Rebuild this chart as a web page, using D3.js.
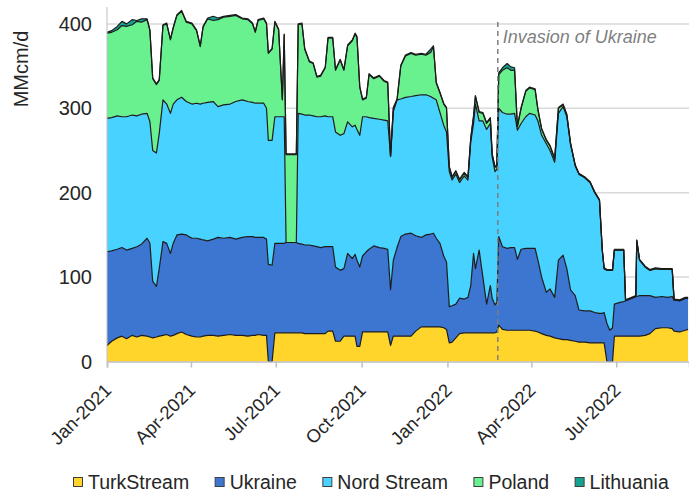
<!DOCTYPE html>
<html>
<head>
<meta charset="utf-8">
<script src="https://cdn.jsdelivr.net/npm/d3@7"></script>
<style>
  html, body { margin: 0; padding: 0; background: #fff; }
  svg { display: block; font-family: "Liberation Sans", Arial, sans-serif; }
</style>
</head>
<body>
<svg id="chart" width="689" height="493"></svg>
<script>
// ---- DATA ----
const dates = [
 "2021-01-01","2021-01-06","2021-01-12","2021-01-17","2021-01-22","2021-01-28","2021-02-02","2021-02-07","2021-02-13","2021-02-16",
 "2021-02-19","2021-02-23","2021-02-26","2021-03-02","2021-03-06","2021-03-10","2021-03-13","2021-03-17","2021-03-22","2021-03-27",
 "2021-04-02","2021-04-07","2021-04-11","2021-04-14","2021-04-19","2021-04-25","2021-04-30","2021-05-06","2021-05-13","2021-05-19",
 "2021-05-26","2021-06-01","2021-06-06","2021-06-09","2021-06-12","2021-06-18","2021-06-21","2021-06-23","2021-06-27","2021-06-30",
 "2021-07-04","2021-07-08","2021-07-10","2021-07-12","2021-07-23","2021-07-25","2021-07-29","2021-08-01","2021-08-06","2021-08-10",
 "2021-08-14","2021-08-18","2021-08-23","2021-08-26","2021-08-31","2021-09-03","2021-09-08","2021-09-12","2021-09-16","2021-09-21",
 "2021-09-24","2021-09-26","2021-09-29","2021-10-02","2021-10-06","2021-10-09","2021-10-14","2021-10-20","2021-10-25","2021-10-29",
 "2021-11-01","2021-11-04","2021-11-08","2021-11-12","2021-11-17","2021-11-23","2021-11-28","2021-12-04","2021-12-09","2021-12-14",
 "2021-12-17","2021-12-20","2021-12-24","2021-12-28","2021-12-31","2022-01-03","2022-01-06","2022-01-10","2022-01-14","2022-01-19",
 "2022-01-23","2022-01-26","2022-01-29","2022-01-31","2022-02-04","2022-02-08","2022-02-12","2022-02-16","2022-02-18","2022-02-21",
 "2022-02-23","2022-02-25","2022-03-01","2022-03-06","2022-03-10","2022-03-14","2022-03-17","2022-03-21","2022-03-26","2022-03-30",
 "2022-04-05","2022-04-08","2022-04-12","2022-04-17","2022-04-21","2022-04-26","2022-04-30","2022-05-05","2022-05-09","2022-05-13",
 "2022-05-18","2022-05-22","2022-05-28","2022-06-03","2022-06-08","2022-06-13","2022-06-16","2022-06-18","2022-06-21","2022-06-24",
 "2022-06-27","2022-06-29","2022-07-05","2022-07-09","2022-07-11","2022-07-22","2022-07-23","2022-07-26","2022-08-01","2022-08-06",
 "2022-08-12","2022-08-19","2022-08-25","2022-08-30","2022-09-01","2022-09-07","2022-09-13","2022-09-16"
];
const turkStream = [
 19,24,28,30,27,31,29,31,30,29, 28,29,30,31,32,30,31,33,35,32,
 30,29,29,30,31,31,30,31,32,31, 31,30,31,31,32,31,31,0,0,34,
 34,34,34,34,34,34,34,33,33,33, 33,33,33,36,36,24,24,30,30,30,
 30,18,18,35,35,35,35,35,35,35, 19,30,30,30,30,30,36,41,41,41,
 41,41,41,40,38,22,23,28,33,34, 34,34,34,34,34,34,34,34,34,34,
 35,43,38,37,37,37,37,37,37,37, 36,35,33,31,30,28,27,26,26,25,
 24,23,23,22,22,22,22,22,0,0, 0,30,30,30,30,30,30,30,31,33,
 39,40,40,39,36,35,37,38
];
const ukraine = [
 111,107,105,105,105,103,107,108,116,111, 67,60,80,111,108,98,109,117,116,118,
 116,117,116,114,112,114,117,115,115,114, 116,118,117,116,115,116,114,115,114,106,
 106,106,106,107,107,106,105,105,105,104, 103,102,103,100,100,88,84,80,98,92,
 97,102,94,90,95,98,102,100,99,98, 66,90,105,118,121,122,113,106,109,110,
 111,105,99,85,80,43,43,40,42,40, 42,56,94,76,98,66,34,56,41,33,
 35,105,98,97,98,98,84,96,97,97, 98,85,67,51,56,48,93,100,84,60,
 54,38,37,38,36,35,35,36,45,37, 40,38,40,41,42,47,47,48,47,45,
 37,37,36,38,37,37,38,37
];
const nordStream = [
 158,158,158,155,158,158,155,154,148,144, 155,158,160,168,165,166,165,160,162,158,
 159,160,160,162,164,163,155,158,158,163, 163,160,159,159,159,159,155,147,148,150,
 150,150,150,0,0,154,154,154,154,154, 154,155,155,154,154,160,160,160,156,156,
 153,155,156,165,160,156,151,152,152,152, 158,176,175,163,162,162,166,169,166,163,
 160,164,155,155,154,160,149,154,137,146, 139,170,154,195,153,185,207,192,167,158,
 158,152,159,159,158,159,153,149,156,160, 158,165,168,176,164,160,174,176,180,172,
 154,161,158,152,142,134,75,52,63,71, 68,64,62,61,0,0,66,42,34,30,
 34,32,33,32,0,0,0,0
];
const poland = [
 101,101,102,108,107,107,112,109,111,108, 85,81,63,88,95,87,90,100,102,94,
 95,86,68,90,99,96,103,104,104,102, 96,97,93,84,98,100,100,103,108,112,
 103,20,97,104,104,105,107,78,63,62, 47,48,57,93,93,73,89,75,90,102,
 108,109,57,20,22,51,47,51,46,45, 0,4,0,39,49,51,48,48,47,52,
 61,20,23,25,28,5,3,3,3,3, 3,4,8,9,10,9,7,6,3,5,
 4,40,50,55,52,51,4,18,30,30, 30,13,7,4,5,4,6,2,2,1,
 0,0,0,0,0,0,0,0,0,0, 0,0,0,0,0,0,0,0,0,0,
 0,0,0,0,0,0,0,0
];
const lithuania = [
 1,2,4,5,3,6,1,4,1,1, 1,1,1,1,1,1,1,1,1,1,
 1,1,1,1,1,5,2,1,1,1, 1,1,1,1,1,1,1,1,1,1,
 1,1,1,1,1,1,1,1,1,1, 1,1,1,1,1,1,1,1,1,1,
 1,1,1,1,1,1,1,1,1,1, 1,1,1,1,1,1,1,1,1,4,
 1,1,1,1,1,1,1,1,1,1, 1,1,1,1,1,1,1,1,1,1,
 1,2,3,5,4,3,1,1,1,1, 1,1,1,1,1,1,1,1,1,1,
 1,1,1,1,1,1,1,1,1,1, 1,1,1,1,1,1,1,1,1,1,
 1,1,1,1,1,1,1,1
];
const seriesNames = ["TurkStream", "Ukraine", "Nord Stream", "Poland", "Lithuania"];
const seriesColors = ["#FFD42B", "#3D76D0", "#48D2FF", "#6AF18F", "#14A291"];
const yTicks = [0, 100, 200, 300, 400];
const xTickDates = ["2021-01-01","2021-04-01","2021-07-01","2021-10-01","2022-01-01","2022-04-01","2022-07-01"];
const invasionDate = "2022-02-24";
const invasionLabel = "Invasion of Ukraine";
const yLabel = "MMcm/d";

// ---- BUILD ----
(function () {
const parse = d3.utcParse("%Y-%m-%d");
const seriesValues = [turkStream, ukraine, nordStream, poland, lithuania];
const rows = dates.map((d, i) => {
  const r = { date: parse(d) };
  seriesNames.forEach((k, j) => r[k] = seriesValues[j][i]);
  return r;
});

const svg = d3.select("#chart");
const pL = 107, pR = 689, pT = 7, pB = 361.5;

const x = d3.scaleUtc()
  .domain([parse("2021-01-01"), d3.utcDay.offset(parse("2021-01-01"), 624)])
  .range([pL, pR]);
const y = d3.scaleLinear().domain([0, 420]).range([pB, pT]);

// gridlines
svg.append("g").selectAll("line")
  .data(yTicks.filter(v => v > 0))
  .join("line")
  .attr("x1", pL).attr("x2", pR)
  .attr("y1", d => y(d)).attr("y2", d => y(d))
  .attr("stroke", "#d9d9d9").attr("stroke-width", 1.5);

// stacked areas
const stack = d3.stack().keys(seriesNames);
const layers = stack(rows);
const area = d3.area()
  .x(d => x(d.data.date))
  .y0(d => y(d[0]))
  .y1(d => y(d[1]));
const topLine = d3.line()
  .x(d => x(d.data.date))
  .y(d => y(d[1]));

svg.append("g").selectAll("path")
  .data(layers)
  .join("path")
  .attr("d", area)
  .attr("fill", (d, i) => seriesColors[i]);

svg.append("g").selectAll("path")
  .data(layers)
  .join("path")
  .attr("d", topLine)
  .attr("fill", "none")
  .attr("stroke", "#1c1c1c")
  .attr("stroke-width", 1.2)
  .attr("stroke-linejoin", "round");

// y axis line
svg.append("line")
  .attr("x1", pL).attr("x2", pL)
  .attr("y1", pT).attr("y2", pB)
  .attr("stroke", "#bfbfbf").attr("stroke-width", 1);

// x axis
const xAxis = d3.axisBottom(x)
  .tickValues(xTickDates.map(parse))
  .tickSize(6)
  .tickFormat(d3.utcFormat("%b-%Y"));
const gx = svg.append("g").attr("transform", `translate(0,${pB})`).call(xAxis);
gx.select(".domain").attr("stroke", "#bfbfbf").attr("stroke-width", 1.5);
gx.selectAll(".tick line").attr("stroke", "#bfbfbf").attr("stroke-width", 1.5);
gx.selectAll(".tick text")
  .attr("font-size", "18.5px")
  .attr("font-family", "Liberation Sans, Arial, sans-serif")
  .attr("fill", "#262626")
  .attr("text-anchor", "end")
  .attr("dy", null)
  .attr("y", 0)
  .attr("transform", "translate(5,30) rotate(-45)");

// y tick labels
svg.append("g").selectAll("text")
  .data(yTicks)
  .join("text")
  .attr("x", 92)
  .attr("y", d => y(d))
  .attr("dy", "0.36em")
  .attr("text-anchor", "end")
  .attr("font-size", "20px")
  .attr("fill", "#262626")
  .text(d => d);

// y axis title
svg.append("text")
  .attr("transform", "translate(28,69) rotate(-90)")
  .attr("text-anchor", "middle")
  .attr("font-size", "20px")
  .attr("fill", "#262626")
  .text(yLabel);

// invasion marker
const xi = x(parse(invasionDate));
svg.append("line")
  .attr("x1", xi).attr("x2", xi)
  .attr("y1", 22).attr("y2", pB)
  .attr("stroke", "#7f7f7f").attr("stroke-width", 1.5)
  .attr("stroke-dasharray", "5,4");
svg.append("text")
  .attr("x", xi + 5).attr("y", 43)
  .attr("font-size", "18px")
  .attr("font-style", "italic")
  .attr("fill", "#7f7f7f")
  .text(invasionLabel);

// legend
const lg = svg.append("g");
let lx = 73.5;
seriesNames.forEach((name, i) => {
  lg.append("rect")
    .attr("x", lx).attr("y", 477.5)
    .attr("width", 9).attr("height", 9)
    .attr("fill", seriesColors[i])
    .attr("stroke", "#404040").attr("stroke-width", 1);
  const t = lg.append("text")
    .attr("x", lx + 14.5).attr("y", 488.5)
    .attr("font-size", "19.5px")
    .attr("fill", "#262626")
    .text(name);
  lx = lx + 14.5 + t.node().getComputedTextLength() + 26;
});
})();
</script>
</body>
</html>
